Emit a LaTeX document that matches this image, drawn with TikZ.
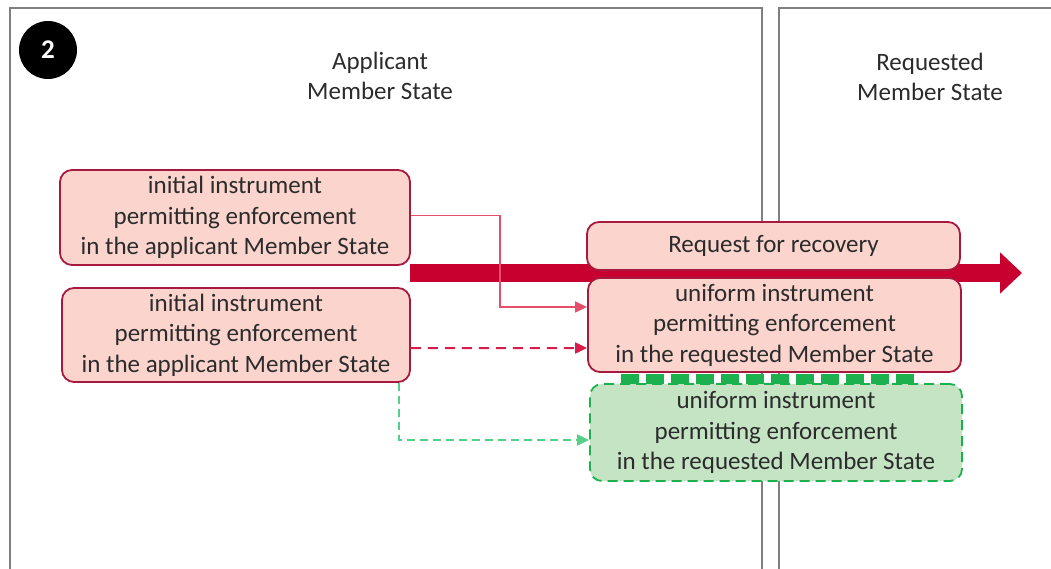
\documentclass[tikz,border=0pt]{standalone}
\usepackage{fontspec}
\setmainfont{Carlito}
\usetikzlibrary{arrows.meta}
\definecolor{boxfill}{HTML}{FBD5CD}
\definecolor{boxline}{HTML}{A8193F}
\definecolor{bigred}{HTML}{C8002F}
\definecolor{thinred}{HTML}{E4506C}
\definecolor{dashred}{HTML}{D81B4A}
\definecolor{gfill}{HTML}{C4E4C4}
\definecolor{gline}{HTML}{1DB04E}
\definecolor{gconn}{HTML}{55D087}
\definecolor{txt}{HTML}{2B2B2B}
\definecolor{panel}{HTML}{7F7F7F}
\tikzset{
  redbox/.style={draw=boxline, fill=boxfill, line width=1.8bp, rounded corners=12bp,
    align=center, text=txt, inner sep=0pt, font=\fontsize{25bp}{30.5bp}\selectfont},
  greenbox/.style={draw=gline, fill=gfill, line width=1.8bp, dash pattern=on 10bp off 6bp,
    rounded corners=12bp, align=center, text=txt, inner sep=0pt,
    font=\fontsize{25bp}{30.5bp}\selectfont},
  paneltitle/.style={align=center, text=txt, font=\fontsize{25bp}{30.5bp}\selectfont},
  panelline/.style={draw=panel, line width=2bp},
  tip/.style={-{Triangle[length=12bp,width=11bp]}},
}
\begin{document}
\begin{tikzpicture}[x=1bp,y=-1bp]
\useasboundingbox (0,0) rectangle (1051,569);
\begin{scope}
\clip (0,0) rectangle (1051,569);
\draw[panelline] (10,8) rectangle (762,590);
\draw[panelline] (779,8) rectangle (1070,590);
\end{scope}
\node[circle, fill=black, minimum size=58bp, inner sep=0pt, text=white,
  font=\fontsize{27bp}{30bp}\selectfont\bfseries] (num) at (48,50) {2};
\node[paneltitle] (tA) at (380,76) {Applicant\\Member State};
\node[paneltitle] (tR) at (930,77) {Requested\\Member State};
% big arrow
\coordinate (bs) at (410,273);
\coordinate (be) at (1022,273);
\draw[bigred, line width=18bp, -{Triangle[length=22bp,width=40bp]}] (bs) -- (be);
% boxes
\node[redbox, minimum width=350bp, minimum height=95bp] (a1) at (235,217.5)
  {initial instrument\\permitting enforcement\\in the applicant Member State};
\node[redbox, minimum width=348bp, minimum height=94bp] (a2) at (236,335)
  {initial instrument\\permitting enforcement\\in the applicant Member State};
\node[redbox, minimum width=373bp, minimum height=48bp] (req) at (773.5,246)
  {Request for recovery};
\node[redbox, minimum width=373bp, minimum height=94bp] (u) at (774.5,325)
  {uniform instrument\\permitting enforcement\\in the requested Member State};
\node[greenbox, minimum width=372bp, minimum height=97bp] (g) at (776,432.5)
  {uniform instrument\\permitting enforcement\\in the requested Member State};
% green strip
\coordinate (s1) at (621,378.5);
\coordinate (s2) at (918,378.5);
\draw[gline, line width=10bp, dash pattern=on 18bp off 7bp] (s1) -- (s2);
% connectors
\draw[thinred, line width=1.5bp, tip] ([yshift=2bp]a1.east) -| ++(89,0) |- ([yshift=18bp]u.west) ;
\draw[dashred, line width=2bp, dash pattern=on 10bp off 7bp, tip] ([yshift=-13bp]a2.east) -- ([yshift=-23bp]u.west);
\draw[gconn, line width=2bp, dash pattern=on 8bp off 5bp, tip] ([xshift=-12bp]a2.south east) |- ([yshift=-7.5bp]g.west);
\end{tikzpicture}
\end{document}
